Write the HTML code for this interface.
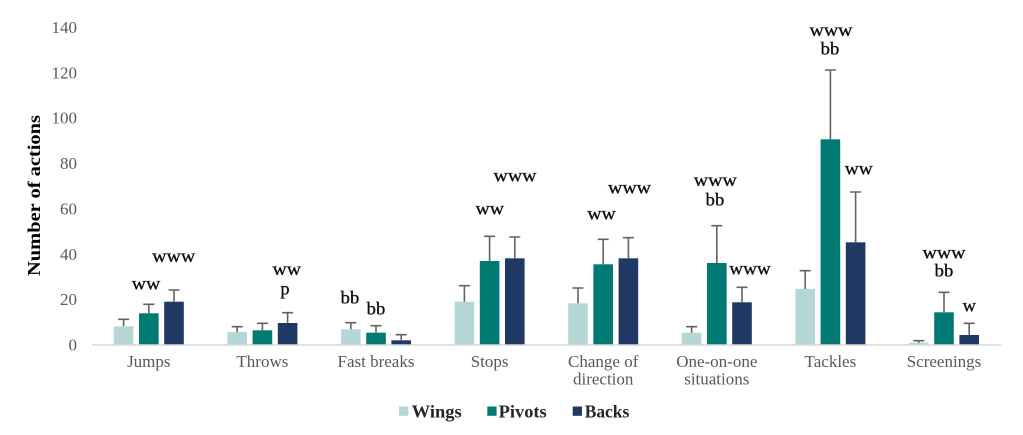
<!DOCTYPE html>
<html>
<head>
<meta charset="utf-8">
<style>
html,body{margin:0;padding:0;background:#fff;}
svg{display:block;}
text{font-family:"Liberation Serif","DejaVu Serif",serif;}
</style>
</head>
<body>
<svg width="1023" height="435" viewBox="0 0 1023 435" xmlns="http://www.w3.org/2000/svg">
<rect width="1023" height="435" fill="#fff"/>
<!-- y tick labels -->
<g font-size="17" fill="#595959" text-anchor="end">
<text x="77" y="350.5">0</text>
<text x="77" y="305.1">20</text>
<text x="77" y="259.8">40</text>
<text x="77" y="214.4">60</text>
<text x="77" y="169.1">80</text>
<text x="77" y="123.7">100</text>
<text x="77" y="78.4">120</text>
<text x="77" y="33.0">140</text>
</g>
<!-- y axis title -->
<text transform="translate(40,195.5) rotate(-90)" text-anchor="middle" font-size="18" font-weight="bold" fill="#000" textLength="161" lengthAdjust="spacingAndGlyphs">Number of actions</text>

<!-- bars -->
<g>
<rect x="113.8" y="326.3" width="19.6" height="18.2" fill="#b5d7d6"/>
<rect x="139.0" y="313.3" width="19.6" height="31.2" fill="#007a72"/>
<rect x="164.2" y="301.7" width="19.6" height="42.8" fill="#203864"/>
<rect x="227.4" y="332" width="19.6" height="12.5" fill="#b5d7d6"/>
<rect x="252.6" y="330.3" width="19.6" height="14.2" fill="#007a72"/>
<rect x="277.8" y="323" width="19.6" height="21.5" fill="#203864"/>
<rect x="341.0" y="329.3" width="19.6" height="15.2" fill="#b5d7d6"/>
<rect x="366.2" y="332.7" width="19.6" height="11.8" fill="#007a72"/>
<rect x="391.4" y="340.3" width="19.6" height="4.2" fill="#203864"/>
<rect x="454.6" y="301.7" width="19.6" height="42.8" fill="#b5d7d6"/>
<rect x="479.8" y="261" width="19.6" height="83.5" fill="#007a72"/>
<rect x="505.0" y="258.3" width="19.6" height="86.2" fill="#203864"/>
<rect x="568.2" y="303.3" width="19.6" height="41.2" fill="#b5d7d6"/>
<rect x="593.4" y="264.3" width="19.6" height="80.2" fill="#007a72"/>
<rect x="618.6" y="258.3" width="19.6" height="86.2" fill="#203864"/>
<rect x="681.8" y="332.7" width="19.6" height="11.8" fill="#b5d7d6"/>
<rect x="707.0" y="263" width="19.6" height="81.5" fill="#007a72"/>
<rect x="732.2" y="302.3" width="19.6" height="42.2" fill="#203864"/>
<rect x="795.4" y="289" width="19.6" height="55.5" fill="#b5d7d6"/>
<rect x="820.6" y="139.3" width="19.6" height="205.2" fill="#007a72"/>
<rect x="845.8" y="242.3" width="19.6" height="102.2" fill="#203864"/>
<rect x="909.0" y="342.7" width="19.6" height="1.8" fill="#b5d7d6"/>
<rect x="934.2" y="312.3" width="19.6" height="32.2" fill="#007a72"/>
<rect x="959.4" y="335" width="19.6" height="9.5" fill="#203864"/>
</g>

<!-- error bars -->
<g stroke="#636363" stroke-width="1.6" fill="none">
<path d="M123.6 326.3V319.3M118.1 319.3H129.1"/>
<path d="M148.8 313.3V304.3M143.3 304.3H154.3"/>
<path d="M174.0 301.7V290M168.5 290H179.5"/>
<path d="M237.2 332V326.7M231.7 326.7H242.7"/>
<path d="M262.4 330.3V323.3M256.9 323.3H267.9"/>
<path d="M287.6 323V312.7M282.1 312.7H293.1"/>
<path d="M350.8 329.3V322.7M345.3 322.7H356.3"/>
<path d="M376.0 332.7V325.7M370.5 325.7H381.5"/>
<path d="M401.2 340.3V334.7M395.7 334.7H406.7"/>
<path d="M464.4 301.7V285.7M458.9 285.7H469.9"/>
<path d="M489.6 261V236.3M484.1 236.3H495.1"/>
<path d="M514.8 258.3V237M509.3 237H520.3"/>
<path d="M578.0 303.3V288M572.5 288H583.5"/>
<path d="M603.2 264.3V239.3M597.7 239.3H608.7"/>
<path d="M628.4 258.3V237.7M622.9 237.7H633.9"/>
<path d="M691.6 332.7V326.7M686.1 326.7H697.1"/>
<path d="M716.8 263V225.7M711.3 225.7H722.3"/>
<path d="M742.0 302.3V287.3M736.5 287.3H747.5"/>
<path d="M805.2 289V270.7M799.7 270.7H810.7"/>
<path d="M830.4 139.3V70M824.9 70H835.9"/>
<path d="M855.6 242.3V192M850.1 192H861.1"/>
<path d="M918.8 342.7V340.7M913.3 340.7H924.3"/>
<path d="M944.0 312.3V292.3M938.5 292.3H949.5"/>
<path d="M969.2 335V323.3M963.7 323.3H974.7"/>
</g>

<!-- x axis line -->
<line x1="92" y1="345" x2="1001" y2="345" stroke="#d9d9d9" stroke-width="1.5"/>

<!-- category labels -->
<g font-size="17" fill="#595959" text-anchor="middle">
<text x="148.8" y="367">Jumps</text>
<text x="262.4" y="367">Throws</text>
<text x="376.0" y="367">Fast breaks</text>
<text x="489.6" y="367">Stops</text>
<text x="603.2" y="367">Change of</text>
<text x="603.2" y="384.5">direction</text>
<text x="716.8" y="367">One-on-one</text>
<text x="716.8" y="384.5">situations</text>
<text x="830.4" y="367">Tackles</text>
<text x="944.0" y="367">Screenings</text>
</g>

<!-- annotations -->
<g font-size="18" fill="#111" stroke="#111" stroke-width="0.35" text-anchor="middle">
<text x="146" y="289.5" textLength="28.5" lengthAdjust="spacingAndGlyphs">ww</text>
<text x="173.7" y="262" textLength="43" lengthAdjust="spacingAndGlyphs">www</text>
<text x="286.8" y="275" textLength="28.5" lengthAdjust="spacingAndGlyphs">ww</text>
<text x="285" y="294.5">p</text>
<text x="350" y="303.3" textLength="18.6" lengthAdjust="spacingAndGlyphs">bb</text>
<text x="376" y="314.7" textLength="18.6" lengthAdjust="spacingAndGlyphs">bb</text>
<text x="489.8" y="214.5" textLength="28.5" lengthAdjust="spacingAndGlyphs">ww</text>
<text x="515" y="181.7" textLength="43" lengthAdjust="spacingAndGlyphs">www</text>
<text x="601.5" y="219.3" textLength="28.5" lengthAdjust="spacingAndGlyphs">ww</text>
<text x="629.5" y="193.3" textLength="43" lengthAdjust="spacingAndGlyphs">www</text>
<text x="715.3" y="186" textLength="43" lengthAdjust="spacingAndGlyphs">www</text>
<text x="715" y="205.7" textLength="18.6" lengthAdjust="spacingAndGlyphs">bb</text>
<text x="750" y="274.3" textLength="41.5" lengthAdjust="spacingAndGlyphs">www</text>
<text x="831" y="36" textLength="43" lengthAdjust="spacingAndGlyphs">www</text>
<text x="830" y="54.3" textLength="18.6" lengthAdjust="spacingAndGlyphs">bb</text>
<text x="858.8" y="174.3" textLength="28" lengthAdjust="spacingAndGlyphs">ww</text>
<text x="944" y="258.7" textLength="43" lengthAdjust="spacingAndGlyphs">www</text>
<text x="944" y="276.7" textLength="18.6" lengthAdjust="spacingAndGlyphs">bb</text>
<text x="969.3" y="311.7" textLength="13.3" lengthAdjust="spacingAndGlyphs">w</text>
</g>

<!-- legend -->
<rect x="399" y="406.5" width="9.3" height="9.3" fill="#b5d7d6"/>
<rect x="487.3" y="406.5" width="9.3" height="9.3" fill="#007a72"/>
<rect x="572.7" y="406.5" width="9.3" height="9.3" fill="#203864"/>
<g font-size="18" font-weight="bold" fill="#262626">
<text x="411.7" y="417.5" textLength="50" lengthAdjust="spacingAndGlyphs">Wings</text>
<text x="498.7" y="417.5" textLength="48" lengthAdjust="spacingAndGlyphs">Pivots</text>
<text x="584.7" y="417.5" textLength="44.6" lengthAdjust="spacingAndGlyphs">Backs</text>
</g>
</svg>
</body>
</html>
